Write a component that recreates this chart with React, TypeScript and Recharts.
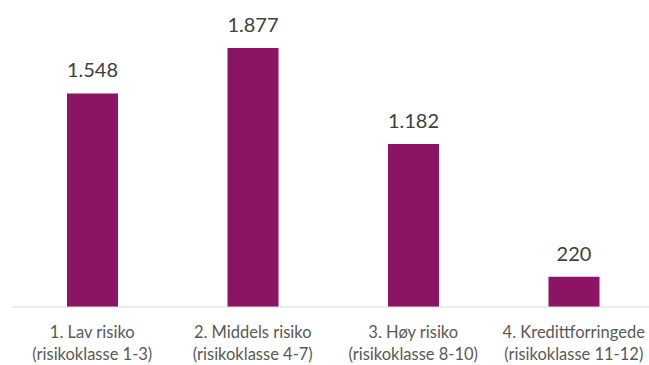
import { BarChart, Bar, XAxis, YAxis, LabelList } from "recharts";

const categories = [
  ["1. Lav risiko", "(risikoklasse 1-3)"],
  ["2. Middels risiko", "(risikoklasse 4-7)"],
  ["3. Høy risiko", "(risikoklasse 8-10)"],
  ["4. Kredittforringede", "(risikoklasse 11-12)"],
];
const values = [1548, 1877, 1182, 220];

const data = categories.map((c, i) => ({ name: c.join("|"), value: values[i] }));

const fmt = (v: number) => v.toString().replace(/\B(?=(\d{3})+(?!\d))/g, ".");

function CatTick(props: any) {
  const { x, y, payload } = props;
  const lines = String(payload.value).split("|");
  return (
    <text x={x} y={y} textAnchor="middle" fill="#595959" fontSize={16.5}>
      {lines.map((l, i) => (
        <tspan key={i} x={x} dy={i === 0 ? 23 : 22}>
          {l}
        </tspan>
      ))}
    </text>
  );
}

export default function App() {
  return (
    <div style={{ position: "absolute", left: 0, top: 0, fontFamily: "Lato, sans-serif" }}>
      <BarChart
        width={660}
        height={365}
        data={data}
        margin={{ top: 31, right: 6, left: 12, bottom: 0 }}
      >
        <XAxis
          dataKey="name"
          height={58}
          axisLine={{ stroke: "#d9d9d9", strokeWidth: 1 }}
          tickLine={false}
          tick={<CatTick />}
          interval={0}
        />
        <YAxis hide domain={[0, 2000]} />
        <Bar dataKey="value" fill="#8b1464" barSize={51} isAnimationActive={false}>
          <LabelList
            dataKey="value"
            position="top"
            offset={16}
            formatter={(v: any) => fmt(Number(v))}
            style={{ fill: "#404040", fontSize: 20 }}
          />
        </Bar>
      </BarChart>
    </div>
  );
}
